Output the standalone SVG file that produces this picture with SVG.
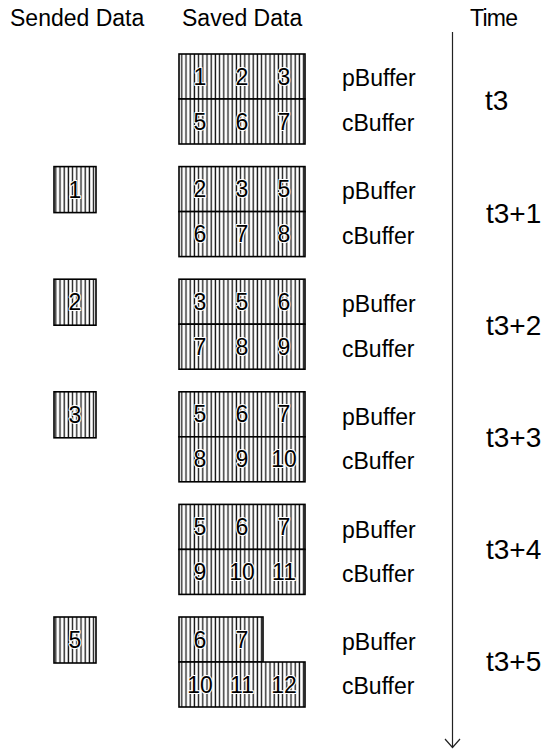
<svg xmlns="http://www.w3.org/2000/svg" width="557" height="752" viewBox="0 0 557 752">
<defs>
<pattern id="hatch" patternUnits="userSpaceOnUse" x="0" y="0" width="4.2" height="10">
<rect width="4.2" height="10" fill="#fff"/>
<line x1="1.2" y1="0" x2="1.2" y2="10" stroke="#111" stroke-width="1.3"/>
</pattern>
</defs>
<style>
text{font-family:"Liberation Sans",Arial,sans-serif;fill:#000}
.h{font-size:23px}
.lbl{font-size:23px}
.tm{font-size:28px}
.d{font-size:23px;text-anchor:middle;paint-order:stroke;stroke:#fff;stroke-width:2px;stroke-linejoin:round}
.cell{fill:url(#hatch);stroke:#000;stroke-width:1.6}
.axis{stroke:#222;stroke-width:1.2;fill:none}
</style>
<rect width="557" height="752" fill="#fff"/>
<g id="headers">
<text class="h" x="10" y="26">Sended Data</text>
<text class="h" x="182" y="26">Saved Data</text>
<text class="h" x="470" y="26" textLength="48">Time</text>
</g>
<g id="connectors">
<line class="axis" x1="452.5" y1="32" x2="452.5" y2="747"/>
<polyline class="axis" points="445,739 452.5,747.5 460,739"/>
</g>
<g id="row0">
<rect class="cell" x="179" y="54" width="126" height="45"/>
<rect class="cell" x="179" y="99" width="126" height="45"/>
<text class="d" x="200" y="84.5">1</text><text class="d" x="242" y="84.5">2</text><text class="d" x="284" y="84.5">3</text>
<text class="d" x="200" y="129.5">5</text><text class="d" x="242" y="129.5">6</text><text class="d" x="284" y="129.5">7</text>
<text class="lbl" x="342" y="86">pBuffer</text>
<text class="lbl" x="342" y="131">cBuffer</text>
<text class="tm" x="485" y="110">t3</text>
</g>
<g id="row1">
<rect class="cell" x="54" y="166.6" width="42" height="46"/>
<text class="d" x="75" y="197.6">1</text>
<rect class="cell" x="179" y="166.6" width="126" height="45"/>
<rect class="cell" x="179" y="211.6" width="126" height="45"/>
<text class="d" x="200" y="197.1">2</text><text class="d" x="242" y="197.1">3</text><text class="d" x="284" y="197.1">5</text>
<text class="d" x="200" y="242.1">6</text><text class="d" x="242" y="242.1">7</text><text class="d" x="284" y="242.1">8</text>
<text class="lbl" x="342" y="198.6">pBuffer</text>
<text class="lbl" x="342" y="243.6">cBuffer</text>
<text class="tm" x="486" y="222.6">t3+1</text>
</g>
<g id="row2">
<rect class="cell" x="54" y="279.2" width="42" height="46"/>
<text class="d" x="75" y="310.2">2</text>
<rect class="cell" x="179" y="279.2" width="126" height="45"/>
<rect class="cell" x="179" y="324.2" width="126" height="45"/>
<text class="d" x="200" y="309.7">3</text><text class="d" x="242" y="309.7">5</text><text class="d" x="284" y="309.7">6</text>
<text class="d" x="200" y="354.7">7</text><text class="d" x="242" y="354.7">8</text><text class="d" x="284" y="354.7">9</text>
<text class="lbl" x="342" y="312">pBuffer</text>
<text class="lbl" x="342" y="357">cBuffer</text>
<text class="tm" x="486" y="335">t3+2</text>
</g>
<g id="row3">
<rect class="cell" x="54" y="391.8" width="42" height="46"/>
<text class="d" x="75" y="422.8">3</text>
<rect class="cell" x="179" y="391.8" width="126" height="45"/>
<rect class="cell" x="179" y="436.8" width="126" height="45"/>
<text class="d" x="200" y="422.3">5</text><text class="d" x="242" y="422.3">6</text><text class="d" x="284" y="422.3">7</text>
<text class="d" x="200" y="467.3">8</text><text class="d" x="242" y="467.3">9</text><text class="d" x="284" y="467.3">10</text>
<text class="lbl" x="342" y="424.5">pBuffer</text>
<text class="lbl" x="342" y="469">cBuffer</text>
<text class="tm" x="486" y="447">t3+3</text>
</g>
<g id="row4">
<rect class="cell" x="179" y="504.4" width="126" height="45"/>
<rect class="cell" x="179" y="549.4" width="126" height="45"/>
<text class="d" x="200" y="534.9">5</text><text class="d" x="242" y="534.9">6</text><text class="d" x="284" y="534.9">7</text>
<text class="d" x="200" y="579.9">9</text><text class="d" x="242" y="579.9">10</text><text class="d" x="284" y="579.9">11</text>
<text class="lbl" x="342" y="537.5">pBuffer</text>
<text class="lbl" x="342" y="582">cBuffer</text>
<text class="tm" x="486" y="559">t3+4</text>
</g>
<g id="row5">
<rect class="cell" x="54" y="617" width="42" height="46"/>
<text class="d" x="75" y="648">5</text>
<rect class="cell" x="179" y="617" width="84" height="45"/>
<rect class="cell" x="179" y="662" width="126" height="45"/>
<text class="d" x="200" y="647.5">6</text><text class="d" x="242" y="647.5">7</text>
<text class="d" x="200" y="692.5">10</text><text class="d" x="242" y="692.5">11</text><text class="d" x="284" y="692.5">12</text>
<text class="lbl" x="342" y="649.5">pBuffer</text>
<text class="lbl" x="342" y="694">cBuffer</text>
<text class="tm" x="486" y="671">t3+5</text>
</g>
</svg>
